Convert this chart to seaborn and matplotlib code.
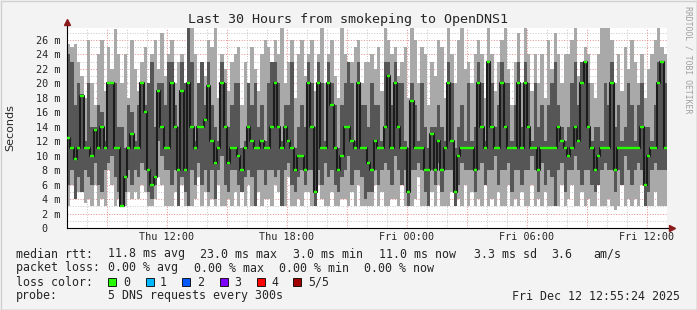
import numpy as np
import pandas as pd
import matplotlib
matplotlib.use("Agg")
import matplotlib.pyplot as plt
import seaborn as sns
from matplotlib.patches import Rectangle

# ---------------- data (milliseconds, one entry per 10-minute step, Thu 07:00 -> Fri 13:00)
rtt_median = [
    12.5, 11, 9.6, 11, 18.3, 11, 11, 10, 13.5, 11, 14, 11, 20, 20, 11, 11, 3, 7, 11, 13, 11, 11, 20, 16, 8, 6, 7, 19, 14, 11,
    11, 20, 14, 8, 19, 8, 20, 14, 11, 14, 14, 15, 19.6, 12, 9, 11, 20, 14, 9, 11, 11, 10, 8, 11, 14, 12, 11, 11, 12, 11,
    11, 14, 20, 14, 11, 14, 12, 11, 8, 10, 10, 8, 20, 14, 5, 20, 11, 11, 20, 17, 11, 8, 10, 14, 14, 12, 11, 20, 11, 11,
    9, 8, 12, 11, 11, 14, 21, 11, 20, 14, 11, 11, 5, 17.6, 11, 11, 11, 8, 8, 13, 8, 12, 8, 11, 20, 12, 5, 10, 11, 11,
    11, 11, 8, 20, 14, 11, 23, 14, 11, 11, 20, 14, 11, 11, 11, 20, 11, 20, 14, 11, 11, 8, 11, 11, 11, 11, 11, 14, 12, 11,
    10, 11, 14, 12, 20, 23, 14, 11, 8, 10, 11, 11, 11, 20, 8, 11, 11, 11, 11, 11, 11, 11, 14, 6, 10, 11, 11, 20, 23, 11,
]
rtt_p4 = [
    24, 23, 17, 20, 18.5, 12, 20, 14, 14, 17, 16, 12, 20, 20, 20, 14, 14, 11, 17, 16, 12, 17, 20, 17, 20, 23, 14, 20, 20, 17,
    23, 23, 17, 14, 23, 20, 27.7, 23, 12, 20, 23, 17, 23, 17, 14, 12, 23, 20, 14, 17, 20, 20, 11, 12, 20, 17, 20, 14, 17, 12,
    20, 23, 23, 20, 12, 17, 17, 23, 11, 14, 17, 14, 23, 20, 14, 23, 20, 12, 23, 20, 17, 11, 17, 20, 23, 20, 12, 23, 17, 17,
    14, 20, 17, 17, 12, 23, 23, 17, 23, 20, 20, 12, 11, 20, 17, 12, 20, 14, 11, 14, 14, 17, 14, 12, 23, 20, 11, 14, 17, 12,
    20, 12, 14, 23, 20, 12, 23, 20, 14, 17, 23, 20, 20, 12, 17, 23, 14, 23, 20, 12, 20, 14, 17, 12, 17, 20, 23, 17, 14, 12,
    14, 20, 23, 17, 23, 23, 20, 12, 14, 14, 12, 20, 17, 23, 14, 17, 12, 14, 20, 17, 12, 17, 20, 14, 14, 12, 17, 23, 23, 20,
]
rtt_p2 = [
    6, 8, 4, 7, 5, 8, 7, 6, 9, 6, 5, 8, 9, 10, 7, 5, 3, 5, 8, 6, 8, 7, 9, 8, 5, 4, 6, 12, 10, 8,
    8, 6, 8, 3, 7, 5, 3, 8, 6, 9, 6, 8, 5, 8, 4, 8, 10, 6, 5, 8, 8, 6, 5, 7, 8, 7, 3, 8, 8, 6,
    8, 8, 7, 8, 3, 8, 9, 6, 5, 7, 8, 6, 8, 8, 3, 8, 6, 9, 7, 8, 6, 5, 7, 8, 10, 6, 8, 8, 7, 4,
    5, 5, 8, 6, 8, 9, 8, 6, 10, 8, 6, 8, 3, 8, 8, 9, 8, 5, 3, 8, 6, 9, 5, 8, 8, 8, 3, 6, 9, 8,
    8, 8, 5, 8, 9, 6, 8, 8, 10, 6, 8, 8, 9, 5, 8, 8, 6, 8, 8, 10, 8, 5, 9, 6, 8, 7, 3, 8, 9, 5,
    8, 8, 10, 8, 6, 8, 8, 6, 5, 6, 8, 9, 8, 8, 5, 8, 6, 10, 8, 6, 8, 9, 8, 3, 5, 8, 9, 8, 8, 8,
]
rtt_max = [
    25.5, 25, 25.5, 23, 21, 18, 26, 20, 17, 24, 26, 19, 25, 22, 27.5, 24, 20, 24, 18, 26, 22, 19, 23, 25, 20, 24, 26, 22, 27, 21,
    24, 26, 20, 23, 24, 19, 27.7, 27.7, 24, 20, 23, 21, 26, 25, 27.7, 18, 24, 22, 19, 23, 24, 25, 17, 23, 20, 25, 22, 19, 24, 26,
    25, 22, 26, 24, 27.7, 20, 23, 26, 18, 24, 26, 21, 24, 26, 19, 24, 27.7, 20, 24, 26, 21, 18, 27.7, 24, 22, 23, 25, 26, 20, 23,
    23, 24, 22, 25, 19, 27.7, 26, 24, 25, 21, 23, 25, 18, 27.7, 26, 20, 25, 24, 17, 23, 21, 26, 25, 18, 27.7, 24, 20, 26, 27.7, 22,
    23, 20, 24, 26, 24, 18, 27.7, 24, 19, 23, 26, 27.7, 22, 17, 23, 27, 20, 27.7, 24, 19, 24, 20, 24, 18, 26, 22, 27, 24, 20, 24,
    24, 26, 27.7, 21, 23, 25, 24, 20, 18, 24, 27.7, 27.7, 27.7, 26, 20, 24, 19, 25, 22, 26, 23, 20, 24, 18, 22, 24, 26, 27.7, 25, 24,
]
rtt_min = [
    3, 6, 4.5, 5, 5, 3.5, 4, 3, 6, 3, 4, 3, 8, 6, 3, 4, 3, 3, 5, 4, 5, 4, 6, 5, 3, 3, 4, 7, 6, 3,
    3, 3, 5, 3, 6, 3, 3, 3, 4, 7, 3, 5, 3, 4, 3, 6, 3, 3, 4, 3, 5, 3, 5, 3, 6, 3, 3, 5, 3, 4,
    4, 3, 6, 5, 3, 3, 7, 3, 3, 4, 3, 5, 5, 3, 3, 6, 4, 3, 3, 5, 3, 3, 4, 4, 3, 5, 3, 6, 3, 3,
    3, 3, 6, 3, 5, 3, 3, 4, 4, 3, 6, 3, 3, 3, 4, 7, 3, 3, 3, 5, 3, 6, 3, 3, 3, 5, 3, 4, 3, 6,
    3, 5, 3, 4, 3, 6, 3, 4, 3, 5, 3, 3, 6, 3, 4, 3, 5, 3, 3, 6, 3, 4, 3, 5, 3, 3, 4, 3, 6, 3,
    4, 6, 3, 3, 5, 3, 4, 3, 3, 6, 3, 3, 4, 3, 2.5, 3, 6, 3, 4, 3, 4, 3, 6, 3, 3, 3, 5, 3, 3, 3,
]
step_hours = 1 / 6
x_tick_hours = [5, 11, 17, 23, 29]          # hours after Thu 07:00
x_tick_labels = ["Thu 12:00", "Thu 18:00", "Fri 00:00", "Fri 06:00", "Fri 12:00"]
y_ticks = list(range(0, 27, 2))
y_tick_labels = ["0  "] + [f"{v} m" for v in y_ticks[1:]]

loss_labels = ["0", "1", "2", "3", "4", "5/5"]
loss_colors = ["#26ff00", "#00b8ff", "#0059ff", "#7e00ff", "#ff0000", "#a10000"]

# ---------------- build frame
n = len(rtt_median)
df = pd.DataFrame({
    "t": np.arange(n) * step_hours,
    "lo": rtt_min, "p2": rtt_p2, "med": rtt_median, "p4": rtt_p4, "hi": rtt_max,
})
edges = np.append(df["t"].values, n * step_hours)
def ext(col):
    v = df[col].values
    return np.append(v, v[-1])

sns.set_theme(style="white")
plt.rcParams["font.family"] = ["DejaVu Sans Mono", "DejaVu Sans"]

W, H = 697, 310
fig = plt.figure(figsize=(W / 100, H / 100), dpi=100, facecolor="#f3f3f3")
ax = fig.add_axes([67 / W, 1 - 228 / H, 600 / W, 200 / H])
ax.set_facecolor("white")

# grid
for v in range(1, 28):
    col = "#e89090" if v % 2 == 0 else "#c8c8c8"
    ax.axhline(v, color=col, lw=0.72, ls=(0, (1, 1.6)), zorder=0.5)
for h in range(1, 30):
    col = "#e89090" if (h - 2) % 3 == 0 else "#c8c8c8"
    ax.axvline(h, color=col, lw=0.72, ls=(0, (1, 1.6)), zorder=0.5)

# smoke
ax.fill_between(edges, ext("lo"), ext("hi"), step="post", color="#a9a9a9", lw=0, zorder=1)
ax.fill_between(edges, ext("p2"), ext("p4"), step="post", color="#565656", lw=0, zorder=1.1)

# median
sns.lineplot(x=edges, y=ext("med"), drawstyle="steps-post", color="#1c1c1c", lw=1.5,
             ax=ax, zorder=2, sort=False)
ax.hlines(df["med"], df["t"], df["t"] + step_hours, colors=loss_colors[0], lw=1.7, zorder=3)

ax.set_xlim(0, 30)
ax.set_ylim(0, 27.66)

for s in ["top", "right"]:
    ax.spines[s].set_visible(False)
for s in ["left", "bottom"]:
    ax.spines[s].set_color("black")
    ax.spines[s].set_linewidth(0.8)
# axis extensions with arrows
ax.plot([0, 0], [1, 1.025], transform=ax.transAxes, color="black", lw=0.8, clip_on=False)
ax.plot([0], [1.03], marker="^", ms=4.5, color="#8b1a1a", transform=ax.transAxes, clip_on=False)
ax.plot([1, 1.006], [0, 0], transform=ax.transAxes, color="black", lw=0.8, clip_on=False)
ax.plot([1.008], [0], marker=">", ms=4.5, color="#8b1a1a", transform=ax.transAxes, clip_on=False)

ax.set_yticks(y_ticks)
ax.set_yticklabels(y_tick_labels, fontsize=7.3)
ax.set_xticks(x_tick_hours)
ax.set_xticklabels(x_tick_labels, fontsize=7.3)
ax.tick_params(axis="y", length=2.2, width=0.7, pad=2.5, color="black")
ax.tick_params(axis="x", length=2, width=0.7, pad=1, color="#e89090")
ax.set_xlabel("")
ax.set_ylabel("")

def fx(x):
    return x / W
def fy(y):
    return 1 - y / H

fig.text(fx(348.5), fy(19), "Last 30 Hours from smokeping to OpenDNS1", ha="center", va="center",
         fontsize=9.6)
fig.text(fx(10), fy(128), "Seconds", rotation=90, ha="center", va="center", fontsize=8,
         family=["DejaVu Sans"])
fig.text(fx(688), fy(6), "RRDTOOL / TOBI OETIKER", rotation=270, ha="center", va="top",
         fontsize=5.9, color="#a0a0a0")

fs = 8.4
rows = [
    (254, [("median rtt:", 16), ("11.8 ms avg", 107.5), ("23.0 ms max", 200), ("3.0 ms min", 293),
           ("11.0 ms now", 379), ("3.3 ms sd", 474), ("3.6", 551), ("am/s", 593)]),
    (268, [("packet loss:", 16), ("0.00 % avg", 107.5), ("0.00 % max", 194), ("0.00 % min", 279),
           ("0.00 % now", 364)]),
    (282, [("loss color:", 16)]),
    (296, [("probe:", 16), ("5 DNS requests every 300s", 107.5)]),
]
for y, items in rows:
    for txt, x in items:
        fig.text(fx(x), fy(y), txt, ha="left", va="center", fontsize=fs)
fig.text(fx(680), fy(296), "Fri Dec 12 12:55:24 2025", ha="right", va="center", fontsize=fs)

box_x = [108.4, 146, 182, 219.5, 257, 293]
lab_x = [123, 160, 197, 234, 271, 308]
for bx, lx, lab, col in zip(box_x, lab_x, loss_labels, loss_colors):
    fig.add_artist(Rectangle((fx(bx), fy(286)), 8 / W, 8 / H, transform=fig.transFigure,
                             facecolor=col, edgecolor="black", lw=0.6))
    fig.text(fx(lx), fy(282), lab, ha="left", va="center", fontsize=fs)

# frame
fig.add_artist(plt.Line2D([fx(0.5), fx(696.5)], [fy(309.5), fy(309.5)], transform=fig.transFigure,
                          color="#a0a0a0", lw=1))
fig.add_artist(plt.Line2D([fx(696.5), fx(696.5)], [fy(0.5), fy(309.5)], transform=fig.transFigure,
                          color="#a0a0a0", lw=1))
fig.add_artist(plt.Line2D([fx(0.5), fx(696.5)], [fy(0.5), fy(0.5)], transform=fig.transFigure,
                          color="#d0d0d0", lw=1))
fig.add_artist(plt.Line2D([fx(0.5), fx(0.5)], [fy(0.5), fy(309.5)], transform=fig.transFigure,
                          color="#d0d0d0", lw=1))

fig.savefig("out.png", dpi=100, facecolor=fig.get_facecolor())
